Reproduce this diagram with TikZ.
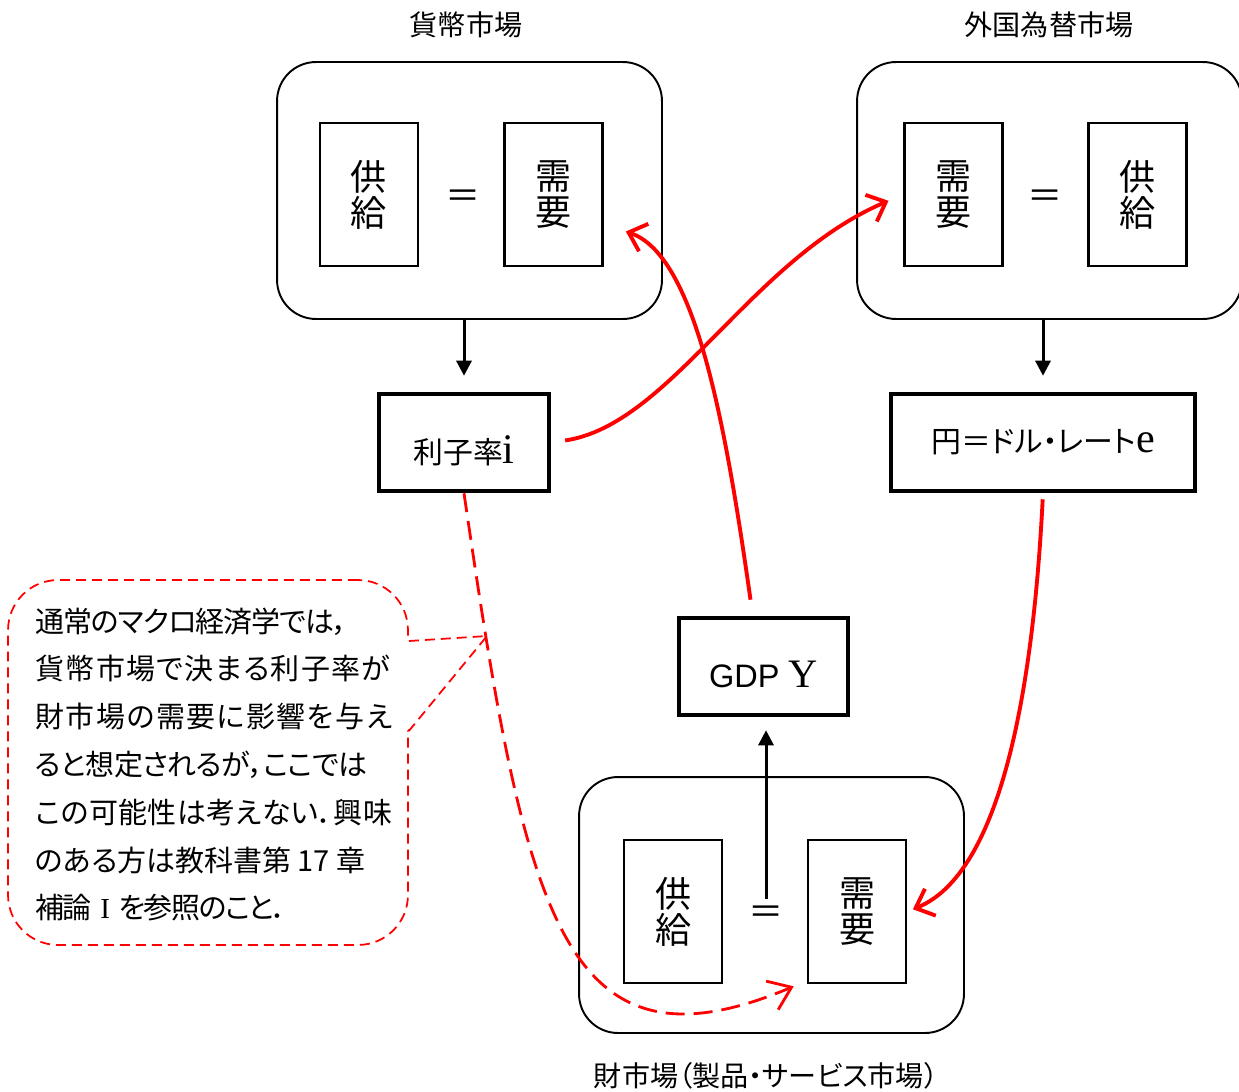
\documentclass[tikz,border=0pt]{standalone}
\usepackage{fontspec}
\setmainfont{Noto Sans CJK JP}
\newfontfamily\jp{Noto Sans CJK JP}
\newfontfamily\jpp[RawFeature=+palt]{Noto Sans CJK JP}
\newfontfamily\lsans{Liberation Sans}
\newfontfamily\lserif{Liberation Serif}
\usetikzlibrary{arrows.meta}
\newskip\spreadskip
\spreadskip=0pt plus 1fil minus 1fil
\def\gobbleone#1{}
\def\spreadloop#1#2{#1\ifx\relax#2\expandafter\gobbleone\else\hskip\spreadskip\expandafter\spreadloop\fi{#2}}
\newcommand\spreadline[2]{\hbox to #1{\spreadloop#2\relax}}
\newcommand\lowered[2]{\raisebox{-#1}[\height][\depth]{#2}}
\begin{document}
\begin{tikzpicture}[x=0.02cm,y=-0.02cm,
  market/.style={draw, line width=1.1pt, rounded corners=0.78cm, minimum width=7.7cm, minimum height=5.14cm},
  inbox/.style={draw, line width=1.5pt, minimum width=1.96cm, minimum height=2.86cm, align=center, inner sep=0pt,
    font=\jp\fontsize{20.5pt}{20.5pt}\selectfont},
  eqsign/.style={font=\jp\fontsize{20pt}{20pt}\selectfont, inner sep=0pt},
  title/.style={font=\jp\fontsize{16pt}{16pt}\selectfont, inner sep=0pt},
  varbox/.style={draw, line width=2.6pt, minimum height=1.94cm, inner sep=0pt, font=\jp\fontsize{17pt}{17pt}\selectfont},
  blackarrow/.style={-{Triangle[length=0.3cm,width=0.3cm]}, line width=1.7pt},
  redarrow/.style={-{Straight Barb[length=0.32cm,width=0.58cm]}, draw=red, line width=2.2pt},
  reddash/.style={-{Straight Barb[length=0.42cm,width=0.62cm]}, draw=red, line width=1.6pt, dash pattern=on 0.38cm off 0.18cm},
  calloutline/.style={draw=red, line width=1pt, dash pattern=on 0.2cm off 0.12cm},
  notetext/.style={anchor=base west, inner sep=0pt, font=\jpp\fontsize{16.5pt}{16.5pt}\selectfont},
]
\useasboundingbox (0,0) rectangle (1239,1091);

% titles
\node[title] (t1) at (466,25) {貨幣市場};
\node[title] (t2) at (1049,25) {外国為替市場};
\node[title, font=\jpp\fontsize{16pt}{16pt}\selectfont] (t3) at (766,1076) {財市場（製品・サービス市場）};

% money market
\node[market] (mm) at (469.5,190.5) {};
\node[inbox] (mS) at (369,194.5) {供\\給};
\node[inbox] (mD) at (553.5,194.5) {需\\要};
\node[eqsign] (eqM) at (463,199) {＝};

% foreign exchange market
\node[market] (fm) at (1049.5,190.5) {};
\node[inbox] (fD) at (953.5,194.5) {需\\要};
\node[inbox] (fS) at (1137.5,194.5) {供\\給};
\node[eqsign] (eqF) at (1045,199) {＝};

% goods market
\node[market, minimum height=5.12cm] (gm) at (771.5,905) {};
\node[inbox] (gS) at (673,911.5) {供\\給};
\node[inbox] (gD) at (857,911.5) {需\\要};
\node[eqsign] (eqG) at (766,915) {＝};

% variables
\node[varbox, minimum width=3.4cm] (rate) at (464,442.5) {\lowered{0.17cm}{利子率{\lserif\fontsize{24pt}{24pt}\selectfont i}}};
\node[varbox, minimum width=6.08cm, font=\jpp\fontsize{17pt}{17pt}\selectfont] (fxr) at (1043,442.5) {円＝ドル・レート{\lserif\fontsize{24pt}{24pt}\selectfont e}};
\node[varbox, minimum width=3.38cm] (gdp) at (763.5,666.5) {\lowered{0.15cm}{{\lsans\fontsize{18.5pt}{18.5pt}\selectfont GDP }{\lserif\fontsize{23pt}{23pt}\selectfont Y}}};

% callout
\node[calloutline, rounded corners=1cm, minimum width=8cm, minimum height=7.3cm] (cbox) at (208,762.5) {};
\coordinate (ptip) at (487,636);
\fill[white] ([shift={(-2,-121.5)}]cbox.east) -- (ptip) -- ([shift={(-2,-31.5)}]cbox.east) -- cycle;
\draw[calloutline] ([shift={(0,-121.5)}]cbox.east) -- (ptip) -- ([shift={(0,-31.5)}]cbox.east);
\node[notetext] (n1) at (35,632) {\spreadline{6.26cm}{通常のマクロ経済学では，}};
\node[notetext] (n2) at (35,679.8) {\spreadline{7.10cm}{貨幣市場で決まる利子率が}};
\node[notetext] (n3) at (35,727.6) {\spreadline{7.14cm}{財市場の需要に影響を与え}};
\node[notetext] (n4) at (35,775.4) {\spreadline{6.64cm}{ると想定されるが，ここでは}};
\node[notetext] (n5) at (35,823.2) {\spreadline{7.14cm}{この可能性は考えない．興味}};
\node[notetext] (n6) at (35,871) {\spreadline{6.60cm}{のある方は教科書第{ 17 }章}};
\node[notetext] (n7) at (35,918.8) {\spreadline{5.04cm}{補論{\hskip0.35em{\lserif I}\hskip0.35em}を参照のこと．}};

% black arrows
\draw[blackarrow, shorten >=0.32cm] (rate.north |- mm.south) -- (rate.north);
\draw[blackarrow, shorten >=0.32cm] (fxr.north |- fm.south) -- (fxr.north);
\draw[blackarrow, shorten >=0.26cm] ([shift={(0,-16)}]eqG.center) -- (eqG.center |- gdp.south);

% red arrows
\draw[redarrow, shorten <=0.28cm, shorten >=0.32cm] (rate.east) .. controls (670,425) and (750,260) .. (fD.west);
\draw[redarrow] ([shift={(-13,-16)}]gdp.north) .. controls (725,420) and (695,255) .. ([shift={(22,37)}]mD.east);
\draw[redarrow, shorten <=0.12cm, shorten >=0.12cm] (fxr.south) .. controls (1035,650) and (1010,870) .. (gD.east);
\draw[reddash] (rate.south) .. controls (525,910) and (560,1085) .. ([shift={(-13,2)}]gD.south west);
\end{tikzpicture}
\end{document}
